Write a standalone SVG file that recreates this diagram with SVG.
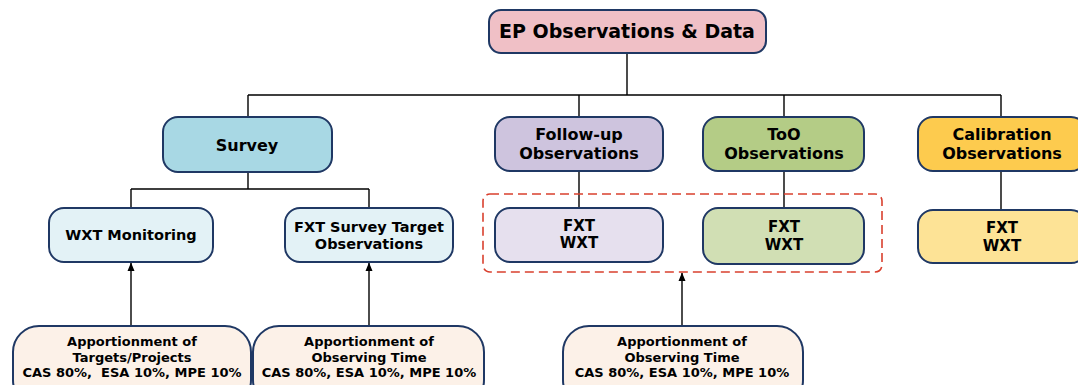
<svg xmlns="http://www.w3.org/2000/svg" width="1078" height="385" viewBox="0 0 1078 385">
<defs>
<style>
.n{stroke:#1F3864;stroke-width:2}
.t{font-family:"DejaVu Sans","Liberation Sans",sans-serif;font-weight:bold;fill:#000;text-anchor:middle}
.c{fill:none;stroke:#000;stroke-width:1.4}
</style>
<marker id="ah" markerWidth="9" markerHeight="8" refX="8" refY="4" orient="auto" markerUnits="userSpaceOnUse" viewBox="0 0 9 8">
<path d="M0,0.5 L8.5,4 L0,7.5 Z" fill="#000"/>
</marker>
</defs>
<rect width="1078" height="385" fill="#fff"/>
<g id="connectors">
<path class="c" d="M627,53 V95 M248,95 H1001 M248,95 V117 M579,95 V117 M784,95 V117 M1001,95 V117"/>
<path class="c" d="M248,172 V189 M131,189 H369 M131,189 V208 M369,189 V208"/>
<path class="c" d="M579,171 V208 M784,171 V208 M1001,171 V210"/>
<line class="c" x1="131" y1="326" x2="131" y2="263" marker-end="url(#ah)"/>
<line class="c" x1="369" y1="326" x2="369" y2="263" marker-end="url(#ah)"/>
<line class="c" x1="682" y1="326" x2="682" y2="273" marker-end="url(#ah)"/>
</g>
<g id="n-top"><rect class="n" x="489" y="10" width="277" height="43" rx="12" fill="#F0C0C6"/><text class="t" x="627" y="38" font-size="19">EP Observations &amp; Data</text></g>
<g id="n-survey"><rect class="n" x="163" y="117" width="169" height="55" rx="15" fill="#A8D8E4"/><text class="t" x="247" y="151" font-size="16">Survey</text></g>
<g id="n-followup"><rect class="n" x="495" y="117" width="168" height="54" rx="15" fill="#CEC4DE"/><text class="t" x="579" y="140" font-size="16">Follow-up</text><text class="t" x="579" y="159" font-size="16">Observations</text></g>
<g id="n-too"><rect class="n" x="703" y="117" width="161" height="54" rx="15" fill="#B4CC86"/><text class="t" x="784" y="140" font-size="16">ToO</text><text class="t" x="784" y="159" font-size="16">Observations</text></g>
<g id="n-calib"><rect class="n" x="918" y="117" width="168" height="54" rx="15" fill="#FDCB4E"/><text class="t" x="1002" y="140" font-size="16">Calibration</text><text class="t" x="1002" y="159" font-size="16">Observations</text></g>
<g id="n-wxtmon"><rect class="n" x="49" y="208" width="164" height="54" rx="15" fill="#E3F2F6"/><text class="t" x="131" y="240" font-size="14.5">WXT Monitoring</text></g>
<g id="n-fxtsurvey"><rect class="n" x="285" y="208" width="168" height="54" rx="15" fill="#E3F2F6"/><text class="t" x="369" y="232" font-size="14.5">FXT Survey Target</text><text class="t" x="369" y="249" font-size="14.5">Observations</text></g>
<g id="n-fu-inst"><rect class="n" x="495" y="208" width="168" height="54" rx="15" fill="#E6E0EE"/><text class="t" x="579" y="231" font-size="15">FXT</text><text class="t" x="579" y="248" font-size="15">WXT</text></g>
<g id="n-too-inst"><rect class="n" x="703" y="208" width="161" height="56" rx="15" fill="#D1DFB4"/><text class="t" x="784" y="232" font-size="15">FXT</text><text class="t" x="784" y="250" font-size="15">WXT</text></g>
<g id="n-cal-inst"><rect class="n" x="918" y="210" width="168" height="53" rx="15" fill="#FDE396"/><text class="t" x="1002" y="233" font-size="15">FXT</text><text class="t" x="1002" y="251" font-size="15">WXT</text></g>
<g id="n-group"><rect x="483" y="194" width="399" height="78" rx="7" fill="none" stroke="#D9402E" stroke-width="1.6" stroke-dasharray="9,5"/></g>
<g id="n-app1"><rect class="n" x="13" y="326" width="238" height="80" rx="26" fill="#FCF1E8"/><text class="t" x="132" y="346" font-size="13">Apportionment of</text><text class="t" x="132" y="362" font-size="13">Targets/Projects</text><text class="t" x="132" y="377" font-size="13" xml:space="preserve">CAS 80%,  ESA 10%, MPE 10%</text></g>
<g id="n-app2"><rect class="n" x="253" y="326" width="231" height="80" rx="26" fill="#FCF1E8"/><text class="t" x="369" y="346" font-size="13">Apportionment of</text><text class="t" x="369" y="362" font-size="13">Observing Time</text><text class="t" x="369" y="377" font-size="13">CAS 80%, ESA 10%, MPE 10%</text></g>
<g id="n-app3"><rect class="n" x="563" y="326" width="240" height="80" rx="26" fill="#FCF1E8"/><text class="t" x="682" y="346" font-size="13">Apportionment of</text><text class="t" x="682" y="362" font-size="13">Observing Time</text><text class="t" x="682" y="377" font-size="13">CAS 80%, ESA 10%, MPE 10%</text></g>
</svg>
